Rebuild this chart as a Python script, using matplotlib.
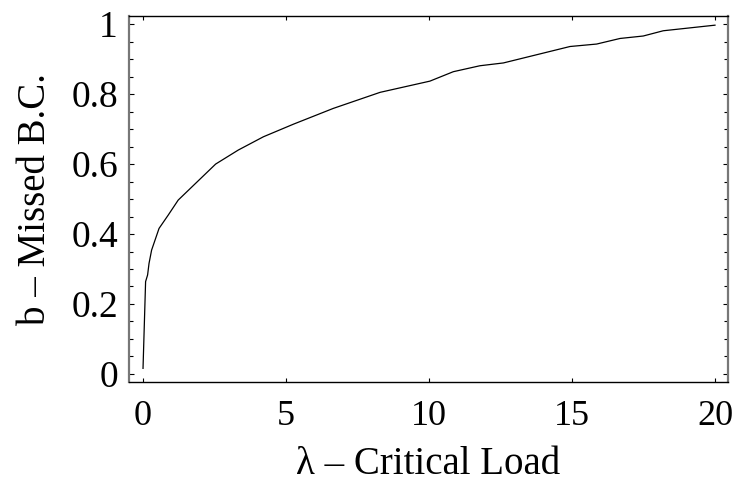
import matplotlib
matplotlib.use("Agg")
import matplotlib.pyplot as plt
from matplotlib.ticker import MultipleLocator

# critical load vs. fraction of missed boundary conditions
load = [0.0, 0.09, 0.16, 0.21, 0.30, 0.56, 0.88, 1.23, 2.54, 3.33, 4.21, 5.26,
        6.65, 8.29, 10.03, 10.85, 11.78, 12.60, 14.93, 15.86, 16.68, 17.49,
        18.19, 20.0]
missed = [0.016, 0.264, 0.283, 0.316, 0.354, 0.416, 0.454, 0.497, 0.600, 0.640,
          0.678, 0.714, 0.759, 0.805, 0.837, 0.864, 0.881, 0.889, 0.936, 0.943,
          0.959, 0.966, 0.981, 0.997]

x_ticks = [0, 5, 10, 15, 20]
y_ticks = [0, 0.2, 0.4, 0.6, 0.8, 1]
y_tick_labels = ["0", "0.2", "0.4", "0.6", "0.8", "1"]

plt.rcParams["font.family"] = ["Liberation Serif", "DejaVu Serif"]

fig = plt.figure(figsize=(7.33, 4.87), dpi=100)
ax = fig.add_axes([0.176, 0.2156, 0.817, 0.7514])

ax.plot(load, missed, color="black", lw=0.9)

ax.set_xlim(-0.49, 20.45)
ax.set_ylim(-0.023, 1.023)
ax.set_xticks(x_ticks)
ax.set_xticklabels([str(t) for t in x_ticks])
ax.set_yticks(y_ticks)
ax.set_yticklabels(y_tick_labels)
ax.yaxis.set_minor_locator(MultipleLocator(0.05))

ax.tick_params(axis="both", which="both", direction="in", top=True, right=True,
               color="black", width=0.8)
ax.tick_params(axis="x", which="major", length=3, labelsize=26, pad=13)
ax.tick_params(axis="y", which="major", length=3.5, labelsize=27, pad=8)
ax.tick_params(axis="y", which="minor", length=3)

for side in ["top", "bottom"]:
    ax.spines[side].set_linewidth(1.0)
    ax.spines[side].set_color("black")
for side in ["left", "right"]:
    ax.spines[side].set_linewidth(1.6)
    ax.spines[side].set_color("#777777")

ax.set_xlabel("λ – Critical Load", fontsize=28, labelpad=9)
ax.set_ylabel("b – Missed B.C.", fontsize=28, labelpad=12)

fig.savefig("out.png", dpi=100)
